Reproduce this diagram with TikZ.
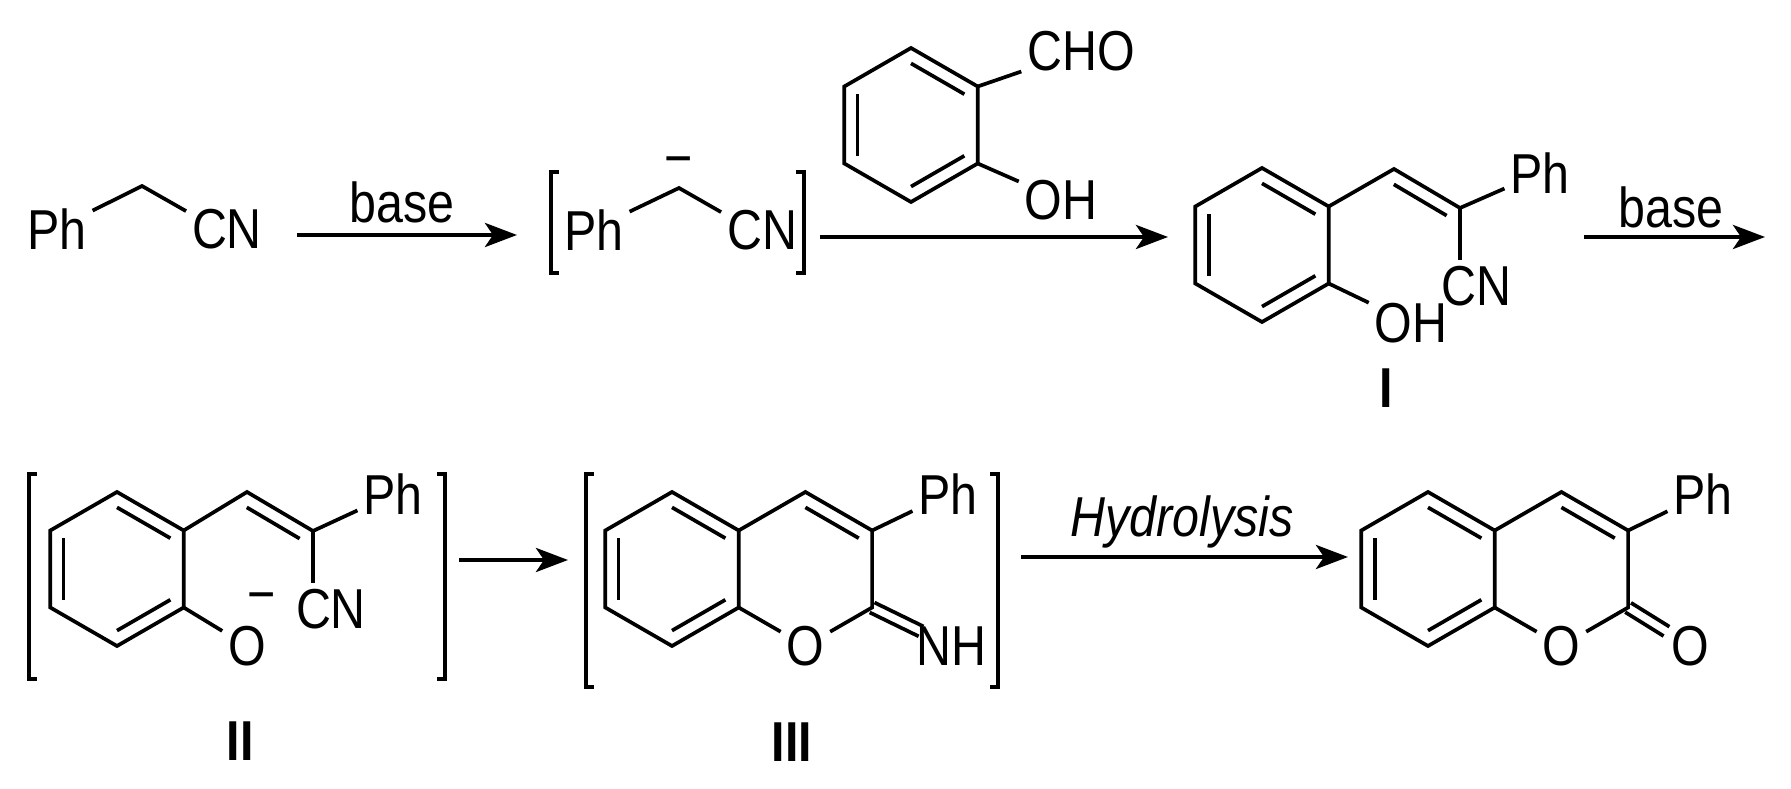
\documentclass[tikz,border=0pt]{standalone}
\usepackage{fontspec}
\setmainfont{Liberation Sans}[FakeStretch=0.86]
\usetikzlibrary{calc,arrows.meta}
\newcommand{\hexring}[3]{%
  \coordinate (#1c) at (#2,#3);
  \coordinate (#11) at (#2,#3-77);
  \coordinate (#12) at (#2+66.7,#3-38.5);
  \coordinate (#13) at (#2+66.7,#3+38.5);
  \coordinate (#14) at (#2,#3+77);
  \coordinate (#15) at (#2-66.7,#3+38.5);
  \coordinate (#16) at (#2-66.7,#3-38.5);
  \draw[bond] (#11)--(#12)--(#13)--(#14)--(#15)--(#16)--cycle;
  \draw[bond] ($(#11)!0.2!(#1c)$)--($(#12)!0.2!(#1c)$);
  \draw[bond] ($(#13)!0.2!(#1c)$)--($(#14)!0.2!(#1c)$);
  \draw[bond] ($(#15)!0.2!(#1c)$)--($(#16)!0.2!(#1c)$);}
\begin{document}
\begin{tikzpicture}[x=0.01cm,y=-0.01cm,
  bond/.style={line width=1.05pt,line join=miter},
  rxn/.style={line width=1.2pt,-{Stealth[length=0.32cm,width=0.24cm,inset=0.08cm]}},
  atom/.style={font=\fontsize{16}{19}\selectfont,inner sep=1.5pt},
  lab/.style={font=\fontsize{16}{19}\selectfont\bfseries,inner sep=1pt},
  brk/.style={line width=1.2pt}]
\useasboundingbox (0,0) rectangle (1791,789);
% row 1: phenylacetonitrile
\node[atom] (ph1) at (57,229) {Ph};
\node[atom] (cn1) at (227,229) {CN};
\coordinate (ch1) at (142,186);
\draw[bond] (ph1.north east) ++(0,8) coordinate (ph1b);
\draw[bond] (ph1b) -- (ch1) -- ([yshift=-0.08cm]cn1.north west);
\coordinate (a1s) at (297,235); \coordinate (a1e) at (517,235);
\draw[rxn] (a1s) -- (a1e);
\node[atom] (base1) at (402,202) {base};
% anion
\draw[brk] (559,172)--(551,172)--(551,273)--(559,273);
\draw[brk] (796,172)--(804,172)--(804,273)--(796,273);
\node[atom] (ph2) at (594,230) {Ph};
\node[atom] (cn2) at (762,230) {CN};
\coordinate (ch2) at (679,188);
\draw[bond] ([yshift=-0.08cm]ph2.north east) -- (ch2) -- ([yshift=-0.08cm]cn2.north west);
\node[atom] (m1) at (679,167) {−};
\coordinate (a2s) at (820,237); \coordinate (a2e) at (1168,237);
\draw[rxn] (a2s) -- (a2e);
% salicylaldehyde
\hexring{s}{911}{125}
\node[atom] (cho) at (1081,51) {CHO};
\node[atom] (oh1) at (1061,200) {OH};
\draw[bond] (s2) -- (cho);
\draw[bond] (s3) -- (oh1);
% compound I
\hexring{r}{1262}{245}
\coordinate (v1) at (1394,169);
\coordinate (c1) at (1460,208);
\coordinate (vc1) at (1393,246);
\node[atom] (ph3) at (1540,173) {Ph};
\node[atom] (cn3) at (1476,286) {CN};
\node[atom] (oh2) at (1411,323) {OH};
\draw[bond] (r2) -- (v1) -- (c1) -- (ph3);
\draw[bond] ($(v1)!0.2!(vc1)$) -- ($(c1)!0.2!(vc1)$);
\draw[bond] (c1) -- (cn3.north -| c1);
\draw[bond] (r3) -- (oh2);
\node[lab] (l1) at (1386,388) {I};
\coordinate (a3s) at (1584,237); \coordinate (a3e) at (1765,237);
\draw[rxn] (a3s) -- (a3e);
\node[atom] (base2) at (1671,207) {base};
% row 2: compound II
\draw[brk] (37,474)--(29,474)--(29,679)--(37,679);
\draw[brk] (437,474)--(445,474)--(445,679)--(437,679);
\hexring{q}{117}{569}
\coordinate (v2) at (247,492);
\coordinate (c2) at (313,531);
\coordinate (vc2) at (246,569);
\node[atom] (ph4) at (393,494) {Ph};
\node[atom] (cn4) at (331,609) {CN};
\node[atom] (o1) at (247,646) {O};
\node[atom] (m2) at (262,603) {−};
\draw[bond] (q2) -- (v2) -- (c2) -- (ph4);
\draw[bond] ($(v2)!0.2!(vc2)$) -- ($(c2)!0.2!(vc2)$);
\draw[bond] (c2) -- (cn4.north -| c2);
\draw[bond] (q3) -- (o1);
\node[lab] (l2) at (240,741) {II};
\coordinate (a4s) at (459,560); \coordinate (a4e) at (568,560);
\draw[rxn] (a4s) -- (a4e);
% compound III
\draw[brk] (594,474)--(586,474)--(586,687)--(594,687);
\draw[brk] (990,474)--(998,474)--(998,687)--(990,687);
\hexring{b}{672}{569}
\coordinate (pc) at (805.4,569);
\coordinate (p1) at (805.4,492);
\coordinate (p2) at (872.1,530.5);
\coordinate (p3) at (872.1,607.5);
\node[atom] (o2) at (805.4,646) {O};
\node[atom] (ph5) at (948,494) {Ph};
\node[atom] (nh) at (951,646) {NH};
\draw[bond] (b2) -- (p1) -- (p2) -- (p3) -- (o2) -- (b3);
\draw[bond] ($(p1)!0.2!(pc)$) -- ($(p2)!0.2!(pc)$);
\draw[bond] (p2) -- (ph5);
\coordinate (nend) at ($(p3)!0.62!(nh)$);
\draw[bond] ($(p3)!0.055cm!90:(nend)$) -- ($(nend)!0.055cm!-90:(p3)$);
\draw[bond] ($(p3)!0.055cm!-90:(nend)$) -- ($(nend)!0.055cm!90:(p3)$);
\node[lab] (l3) at (792,742) {III};
\coordinate (a5s) at (1021,557); \coordinate (a5e) at (1348,557);
\draw[rxn] (a5s) -- (a5e);
\node[atom,font=\fontsize{16}{19}\selectfont\itshape] (hyd) at (1182,522) {Hydrolysis};
% coumarin
\hexring{k}{1428}{569}
\coordinate (kc) at (1561.4,569);
\coordinate (k1p) at (1561.4,492);
\coordinate (k2p) at (1628.1,530.5);
\coordinate (k3p) at (1628.1,607.5);
\node[atom] (o3) at (1561.4,646) {O};
\node[atom] (ph6) at (1703,494) {Ph};
\node[atom] (o4) at (1690,646) {O};
\draw[bond] (k2) -- (k1p) -- (k2p) -- (k3p) -- (o3) -- (k3);
\draw[bond] ($(k1p)!0.2!(kc)$) -- ($(k2p)!0.2!(kc)$);
\draw[bond] (k2p) -- (ph6);
\coordinate (oend) at ($(k3p)!0.62!(o4)$);
\draw[bond] ($(k3p)!0.055cm!90:(oend)$) -- ($(oend)!0.055cm!-90:(k3p)$);
\draw[bond] ($(k3p)!0.055cm!-90:(oend)$) -- ($(oend)!0.055cm!90:(k3p)$);
\end{tikzpicture}
\end{document}
